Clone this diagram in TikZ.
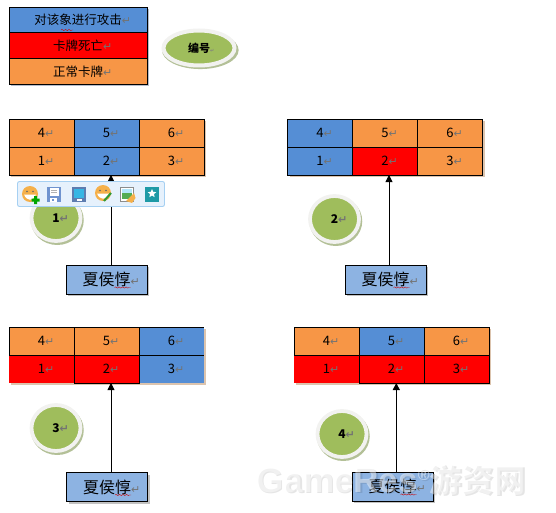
\documentclass[tikz,border=0pt]{standalone}
\usepackage{fontspec}
\setmainfont{Noto Sans CJK SC}
\newfontfamily\retfont{DejaVu Sans}
\newfontfamily\markfont{Liberation Sans}
\usetikzlibrary{shapes.geometric, shadows, decorations.pathmorphing, arrows.meta, calc, positioning}
\definecolor{cardatk}{HTML}{558ED5}
\definecolor{carddead}{HTML}{FF0000}
\definecolor{cardnorm}{HTML}{F79646}
\definecolor{herofill}{HTML}{8DB3E2}
\definecolor{badgefill}{HTML}{9FBD5C}
\definecolor{badgerim}{HTML}{F2F2F0}
\definecolor{cardshade}{HTML}{DCC4AE}
\definecolor{legshade}{HTML}{B4BCCB}
\definecolor{barfill}{HTML}{E6F1FC}
\definecolor{barline}{HTML}{A6D0F2}
\definecolor{facefill}{HTML}{F5B04A}
\definecolor{tealmark}{HTML}{1E9AA6}
\definecolor{diskblue}{HTML}{6F93CF}
\newcommand{\ret}{\rlap{\retfont\fontsize{11}{11}\selectfont\textcolor{black!55}{↵}}}
\newcommand{\marktext}{{\markfont GameRes\fontsize{16}{16}\selectfont\raisebox{12pt}{®}}{\fontsize{32}{32}\selectfont 游资网}}
\tikzset{
  % carte
  cardcell/.style={draw=black, line width=0.9pt, minimum width=65pt, minimum height=28pt,
    inner sep=0pt, outer sep=0pt, font=\fontsize{13}{13}\selectfont},
  norm/.style={cardcell, fill=cardnorm},
  atk/.style={cardcell, fill=cardatk},
  dead/.style={cardcell, fill=carddead},
  deadopen/.style={dead, draw=none},
  atkopen/.style={atk, draw=none},
  % legenda
  legend/.style={draw=black, line width=0.9pt, minimum width=138pt, minimum height=25.7pt,
    inner sep=0pt, outer sep=0pt, font=\fontsize{12.5}{12.5}\selectfont},
  % eroe
  hero/.style={draw=black, line width=0.9pt, fill=herofill, minimum width=81pt, minimum height=29pt,
    inner sep=0pt, outer sep=0pt, font=\fontsize{16}{16}\selectfont,
    drop shadow={shadow xshift=2pt, shadow yshift=-2pt, fill=black!40, opacity=0.6}},
  % numero
  badge/.style={ellipse, draw=badgerim, line width=3.8pt, fill=badgefill, inner sep=0pt,
    font=\bfseries\fontsize{12}{12}\selectfont, minimum width=49pt, minimum height=46pt,
    drop shadow={shadow xshift=1.2pt, shadow yshift=-2pt, shadow scale=1.08, fill=black!25!badgefill!70, opacity=0.8}},
  hit/.style={-{Triangle[length=7pt, width=7pt]}, line width=0.9pt},
  squiggle/.style={red!80!black, line width=0.4pt, decorate, decoration={snake, amplitude=0.6pt, segment length=3.5pt}},
  wmark/.style={inner sep=0pt, outer sep=0pt, font=\bfseries\fontsize{35}{35}\selectfont},
}
% griglia: nome, x, y, stili delle carte 1 3 6 4 2 5
\newcommand{\cardgrid}[9]{
  \fill[cardshade] (#2+2,#3+2) rectangle (#2+197,#3+57.8);
  \node[#4] (#1c1) at (#2+32.5,#3+42) {1\ret};
  \node[#5] (#1c3) at (#2+162.5,#3+42) {3\ret};
  \node[#6] (#1c6) at (#2+162.5,#3+14) {6\ret};
  \node[#7] (#1c4) at (#2+32.5,#3+14) {4\ret};
  \node[#8] (#1c2) at (#2+97.5,#3+42) {2\ret};
  \node[#9] (#1c5) at (#2+97.5,#3+14) {5\ret};
}
\newcommand{\herobox}[3]{
  \node[hero] (#1) at (#2,#3) {夏侯惇\ret};
  \draw[squiggle] ($(#1.center)+(8,8)$) -- ++(16,0);
}
\newcommand{\facebtn}[2]{
  \fill[facefill] (#1,#2) circle (8);
  \fill[white] (#1-6,#2+0.5) .. controls (#1-3,#2+7.5) and (#1+3,#2+7.5) .. (#1+6,#2+0.5) -- cycle;
  \fill[black!60] (#1-3,#2-2.5) circle (0.8) (#1+3,#2-2.5) circle (0.8);
}
\begin{document}
\begin{tikzpicture}[x=1pt, y=-1pt]
  \useasboundingbox (0,0) rectangle (556,513);
  % legenda
  \fill[legshade] (11,9) rectangle (149,86);
  \node[legend, fill=cardatk] (legatk) at (78,20) {对该象进行攻击\ret};
  \node[legend, fill=carddead, below=0pt of legatk] (legdead) {卡牌死亡\ret};
  \node[legend, fill=cardnorm, below=0pt of legdead] (legnorm) {正常卡牌\ret};
  \draw[squiggle] (61,30) -- (73,30);
  \node[badge, minimum width=71pt, minimum height=35pt, line width=4pt] (badgekey) at (199,48) {\fontsize{11}{11}\selectfont 编号\rlap{\retfont\tiny\textcolor{black!50}{↵}}};
  % griglie
  \cardgrid{ga}{9}{119}{norm}{norm}{norm}{norm}{atk}{atk}
  \cardgrid{gb}{287.5}{119}{atk}{norm}{norm}{atk}{dead}{norm}
  \cardgrid{gc}{9}{327}{deadopen}{atkopen}{atkopen}{norm}{dead}{norm}
  \draw[line width=0.9pt] (gcc6.north west) -- (gcc6.north east) (gcc6.south west) -- (gcc6.south east);
  \cardgrid{gd}{294}{327}{deadopen}{dead}{norm}{norm}{dead}{atk}
  % numeri
  \node[badge] (numa) at (56,218) {1\ret};
  \node[badge] (numb) at (334.5,219) {2\ret};
  \node[badge] (numc) at (56,428) {3\ret};
  \node[badge] (numd) at (342,434) {4\ret};
  % eroi e colpi
  \herobox{heroa}{106.5}{279.5}
  \herobox{herob}{385.5}{279.5}
  \herobox{heroc}{107}{487}
  \herobox{herod}{392.5}{486.5}
  \draw[hit] ([xshift=4.5pt]heroa.north) -- ([xshift=4.5pt]heroa.north |- gac2.south);
  \draw[hit] ([xshift=3.5pt]herob.north) -- ([xshift=3.5pt]herob.north |- gbc2.south);
  \draw[hit] ([xshift=4pt]heroc.north) -- ([xshift=4pt]heroc.north |- gcc2.south);
  \draw[hit] ([xshift=3.8pt]herod.north) -- ([xshift=3.8pt]herod.north |- gdc2.south);
  % barra degli strumenti
  \node[draw=barline, line width=0.9pt, fill=barfill, rounded corners=2pt, minimum width=147pt, minimum height=25pt, inner sep=0pt] (toolbar) at (91,194) {};
  \facebtn{30}{194}
  \fill[green!65!black] (34,196) rectangle (37,204) (31.5,198.5) rectangle (39.5,201.5);
  \fill[diskblue] (47,186.5) rectangle (61,201.5);
  \fill[white] (49.5,188) rectangle (58.5,195.5);
  \fill[white] (50,197.5) rectangle (57,201.5);
  \fill[diskblue] (52,198.5) rectangle (54,201);
  \draw[line width=0.6pt, black!30] (51,190.5) -- (57,190.5) (51,192.5) -- (57,192.5);
  \fill[diskblue!85!black] (72,186.5) rectangle (86,201.5);
  \fill[cardatk!65!cyan] (74,188.5) rectangle (84,198);
  \fill[white] (76.5,199.3) rectangle (81.5,200.5);
  \facebtn{103}{193}
  \draw[green!50!black!80, line width=2pt] (104,201) -- (111,193);
  \fill[black!45] (120,186.5) rectangle (134,201.5);
  \fill[white] (121,187.5) rectangle (133,200.5);
  \fill[green!35!gray] (122,189) rectangle (132,199);
  \fill[cyan!30] (122,189) rectangle (132,193);
  \fill[facefill] (126,201) -- (134,193) -- (135.5,198) -- (132,203) -- cycle;
  \fill[tealmark] (145,186.5) rectangle (159,202);
  \node[star, star points=5, star point ratio=2.2, fill=white, minimum size=9pt, inner sep=0pt] (starbtn) at (152,193.5) {};
  % marchio
  \node[wmark, text=black, opacity=0.1] (markshade) at (392.5,481.5) {\marktext};
  \node[wmark, text=white, opacity=0.45] (watermark) at (391,480) {\marktext};
\end{tikzpicture}
\end{document}
